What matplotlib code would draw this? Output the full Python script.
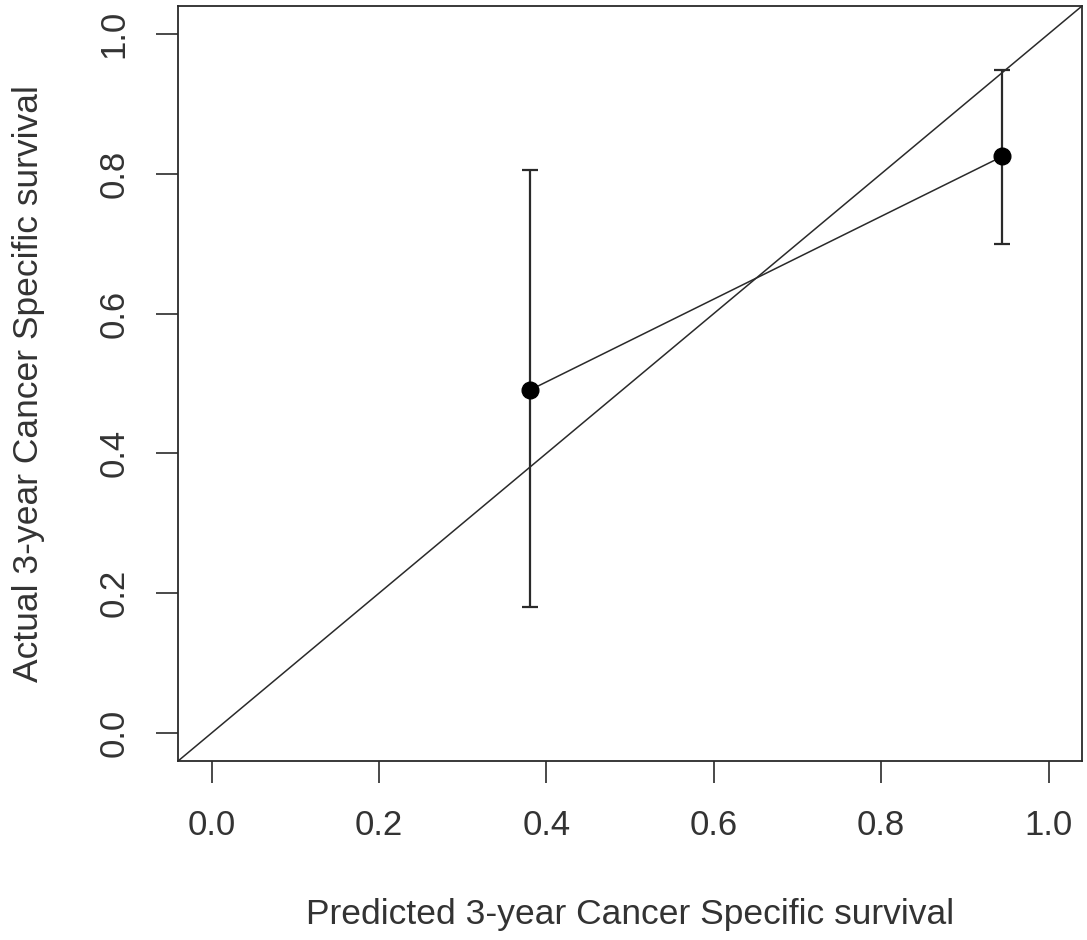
import matplotlib
matplotlib.use("Agg")
import matplotlib.pyplot as plt

predicted = [0.381, 0.945]
observed = [0.491, 0.825]
lower = [0.180, 0.699]
upper = [0.805, 0.948]
diag = [-0.1, 1.2]
ticks = [0.0, 0.2, 0.4, 0.6, 0.8, 1.0]
tick_labels = ["0.0", "0.2", "0.4", "0.6", "0.8", "1.0"]

plt.rcParams['font.family'] = ['Liberation Sans', 'DejaVu Sans']
fig = plt.figure(figsize=(10.87, 9.4), dpi=100)
ax = fig.add_axes([0.1638, 0.1904, 0.9954 - 0.1638, 0.9936 - 0.1904])

col = '#2a2a2a'
ax.plot(diag, diag, color=col, lw=1.1, zorder=1)
ax.plot(predicted, observed, color=col, lw=1.1, zorder=2)
yerr = [[o - l for o, l in zip(observed, lower)], [u - o for o, u in zip(observed, upper)]]
ax.errorbar(predicted, observed, yerr=yerr, fmt='o', color='black', ecolor=col,
            elinewidth=1.6, capsize=6, capthick=1.6, markersize=12, zorder=3)

ax.set_xlim(-0.04, 1.04)
ax.set_ylim(-0.04, 1.04)
ax.set_xticks(ticks)
ax.set_xticklabels(tick_labels)
ax.set_yticks(ticks)
ax.set_yticklabels(tick_labels, rotation=90, va='center')
ax.tick_params(axis='both', direction='out', length=15.5, width=1.2, color=col,
               labelsize=25, labelcolor='#333333')
ax.tick_params(axis='x', pad=19)
ax.tick_params(axis='y', pad=19)
for s in ax.spines.values():
    s.set_linewidth(1.3)
    s.set_color(col)

ax.set_xlabel("Predicted 3-year Cancer Specific survival", fontsize=25.5, color='#333333')
ax.set_ylabel("Actual 3-year Cancer Specific survival", fontsize=25.5, color='#333333')
ax.xaxis.set_label_coords(0.5, -0.181)
ax.yaxis.set_label_coords(-0.1476, 0.5)

fig.savefig("out.png", dpi=100, facecolor='white')
